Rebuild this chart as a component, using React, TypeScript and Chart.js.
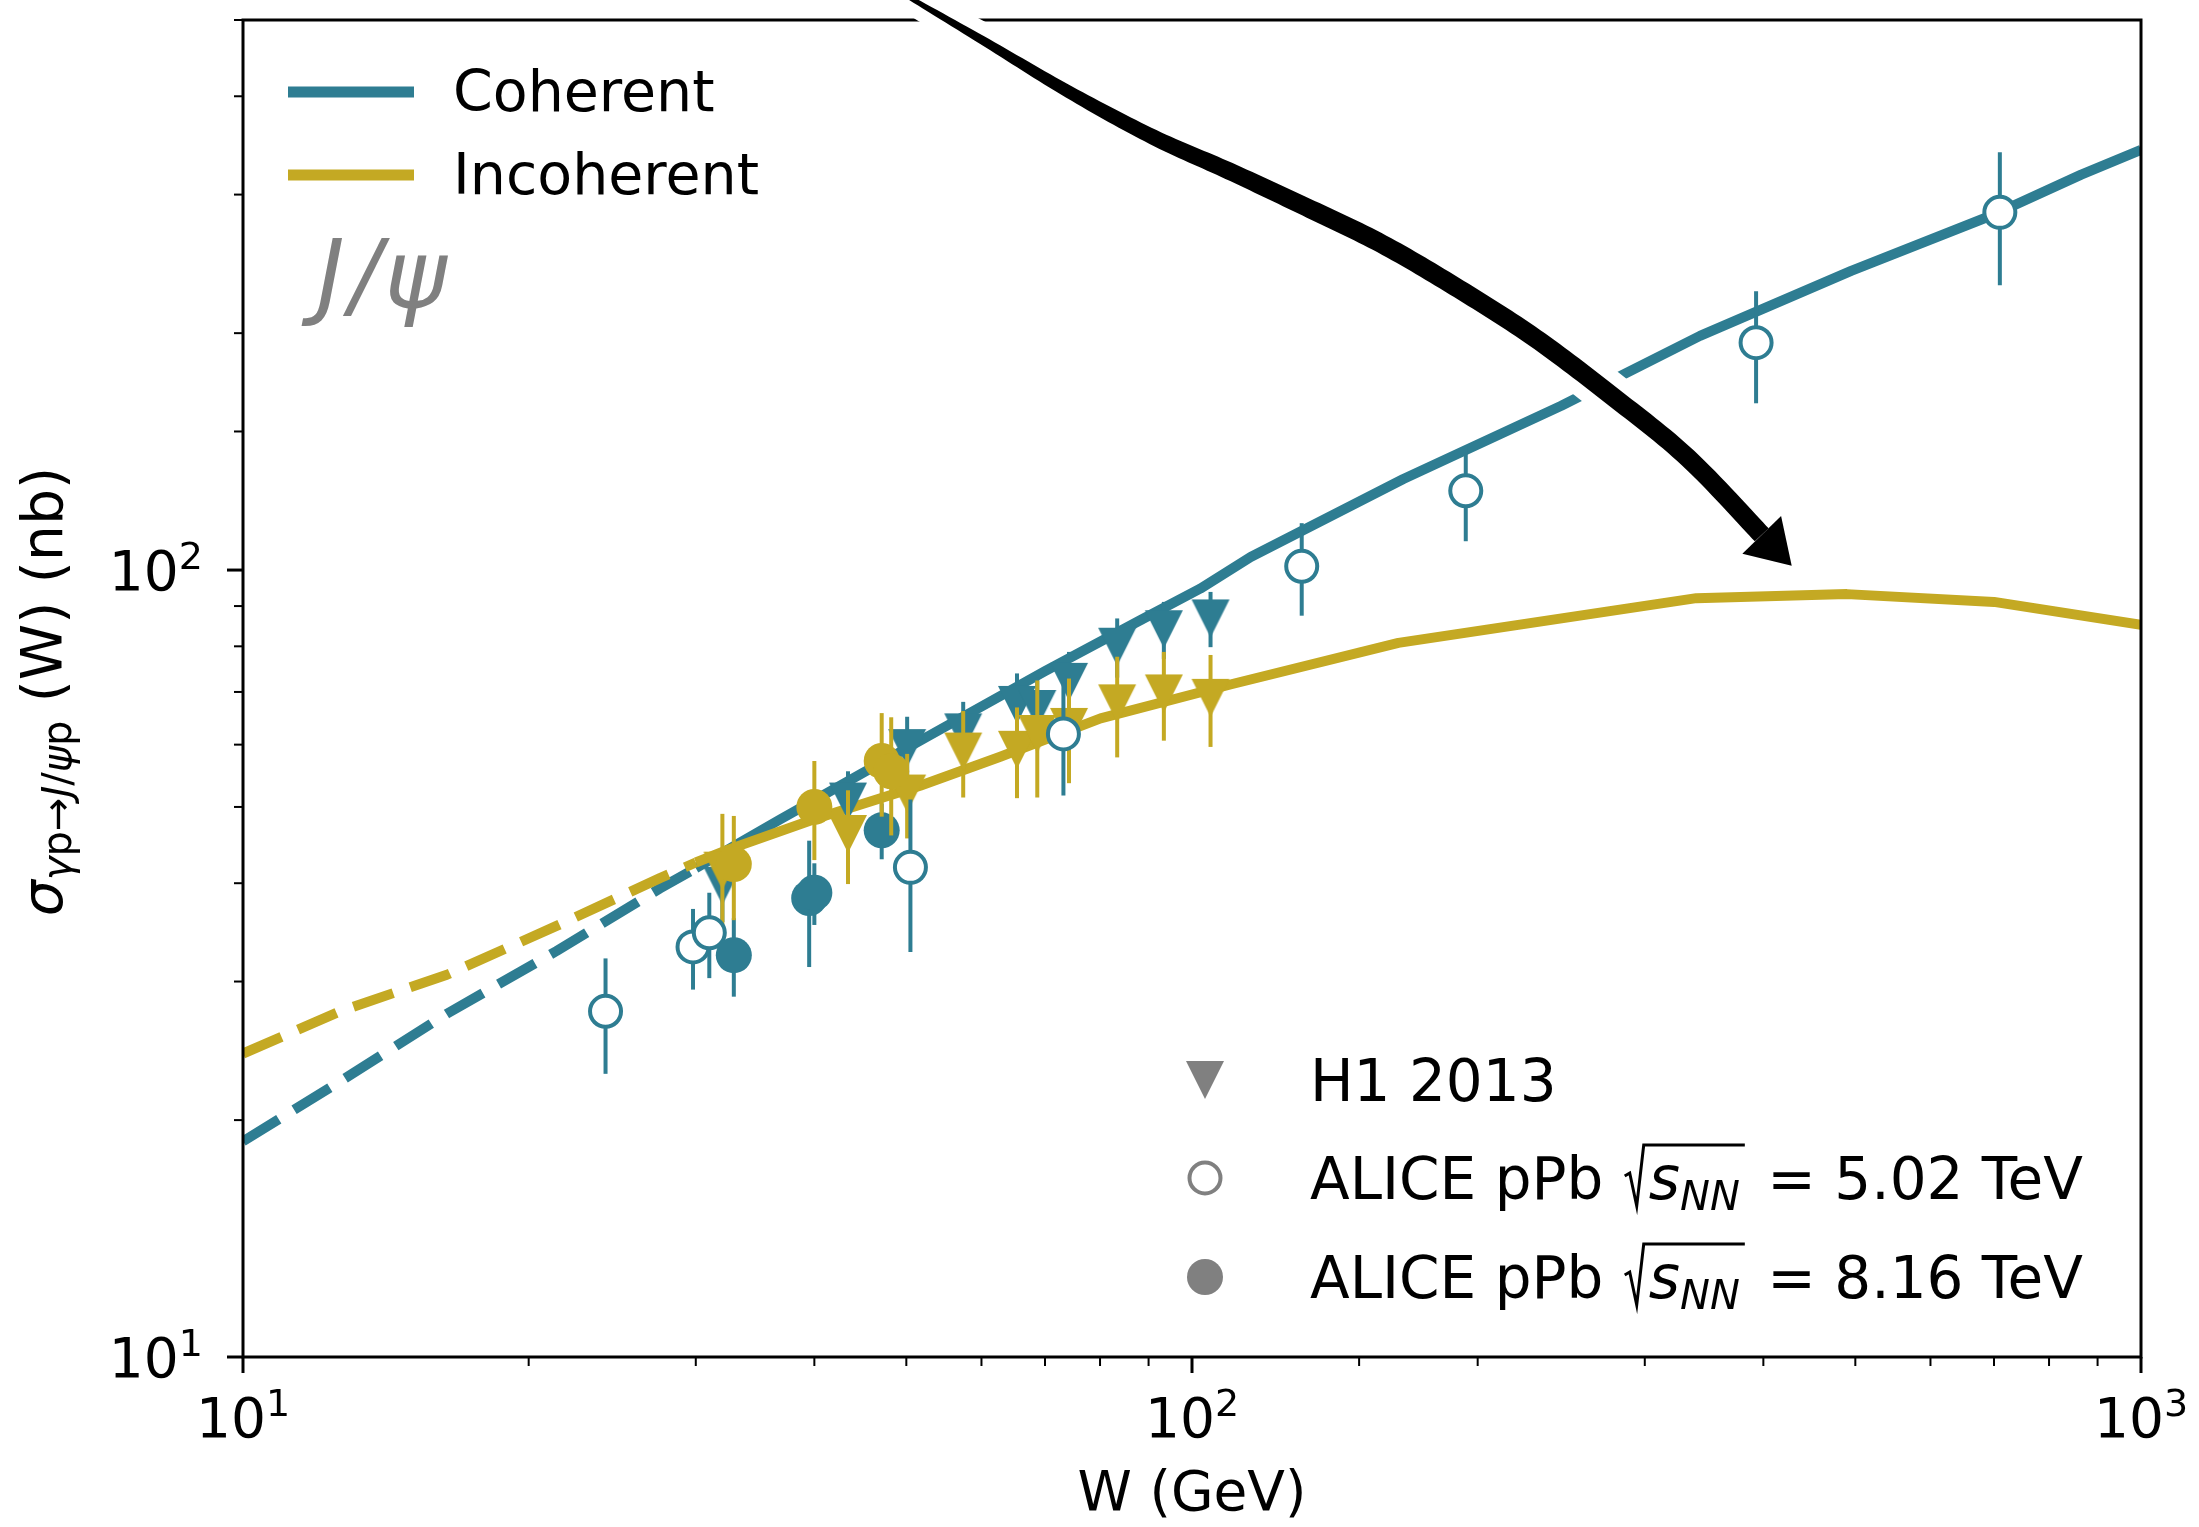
import React, { useEffect, useRef } from 'react';
import { Chart, registerables } from 'chart.js';

Chart.register(...registerables);

const TEAL = '#2E7D92';
const GOLD = '#C4A923';
const GRAY = '#808080';
const FONT = "'DejaVu Sans', sans-serif";

// ---- model curves (W in GeV, sigma in nb) ----
const cohDashW = [10, 12.66, 16.4, 21.4, 27.5, 30];
const cohDashS = [18.8, 22.4, 27.3, 32.8, 39.4, 41.8];
const cohW = [30, 36.8, 44.7, 52.6, 70, 88.3, 102, 115.3, 167, 245, 343, 495, 700, 865, 1000];
const cohS = [41.8, 48.2, 55.0, 61.4, 74.4, 86.4, 94.7, 103.9, 130.5, 161.7, 198.4, 240, 283, 318, 342];
const incDashW = [10, 12.66, 16.4, 21.4, 27.5, 30];
const incDashS = [24.3, 27.5, 30.6, 35.3, 40.6, 42.5];
const incW = [30, 32.4, 39.9, 51.7, 62.8, 80.1, 110, 165, 340, 490, 700, 1000];
const incS = [42.5, 44.1, 48.2, 53.2, 57.9, 64.8, 71.6, 80.8, 92.1, 93.2, 91.1, 85.2];

// ---- H1 2013 ----
const h1W = [32.0, 43.4, 50.1, 57.4, 65.4, 68.7, 74.2, 83.4, 93.4, 104.6];
const h1Coh = [39.7, 50.8, 59.4, 62.2, 67.4, 66.6, 72.1, 79.9, 84.1, 86.8];
const h1CohErr = [4.0, 4.7, 5.7, 5.8, 6.5, 6.5, 6.6, 6.9, 7.0, 7.0];
const h1Inc = [41.5, 46.2, 52.0, 58.8, 59.1, 61.9, 63.2, 67.7, 69.7, 68.8];
const h1IncErr = [7.5, 6.3, 6.4, 7.4, 7.8, 10.5, 9.6, 9.9, 9.0, 9.2];

// ---- ALICE pPb 5.02 TeV ----
const a5W = [24.1, 29.8, 31.0, 50.5, 73.2, 130.5, 194.3, 393, 710];
const a5Coh = [27.5, 33.2, 34.6, 41.9, 61.9, 101.1, 126.1, 194.5, 284.8];
const a5Err = [4.6, 3.9, 4.3, 9.2, 10.2, 13.6, 17.3, 31.6, 54.7];

// ---- ALICE pPb 8.16 TeV ----
const a8W = [32.9, 39.5, 40.0, 47.1];
const a8Coh = [32.4, 38.3, 38.9, 46.7];
const a8CohErr = [3.7, 7.0, 3.5, 3.8];
const a8IncW = [32.9, 40.0, 47.1, 48.2];
const a8Inc = [42.3, 50.0, 57.2, 55.5];
const a8IncErr = [6.4, 7.2, 8.6, 9.5];

// ---- axis ----
const xMin = 10, xMax = 1000, yMin = 10, yMax = 500;
const tickBase = '10';
const xTickExps = ['1', '2', '3'];
const yTickExps = ['1', '2'];
const xTitle = 'W (GeV)';

// legend texts
const lineLegend = ['Coherent', 'Incoherent'];
const markerLegend = ['H1 2013', '5.02', '8.16'];

// arrow path, in canvas pixels relative to the plot area's top-left corner
const arrowDx = [657, 739, 826, 910, 986, 1063, 1139, 1216, 1292, 1369, 1445, 1514, 1548.7];
const arrowDy = [-28, 20, 72, 117, 151, 187, 224, 269, 318, 376, 438, 510, 545.7];

const pts = (xs: number[], ys: number[]) => xs.map((x, i) => ({ x, y: ys[i] }));

function pow10Exp(v: number): number | null {
  const lg = Math.log10(v);
  const r = Math.round(lg);
  return Math.abs(lg - r) < 1e-9 ? r : null;
}

function triImage(color: string, size = 38) {
  const c = document.createElement('canvas');
  c.width = size + 2;
  c.height = size + 2;
  const g = c.getContext('2d')!;
  g.fillStyle = color;
  g.beginPath();
  g.moveTo(1, 1);
  g.lineTo(size + 1, 1);
  g.lineTo(size / 2 + 1, size + 1);
  g.closePath();
  g.fill();
  return c;
}

type Run = { t: string; f: string; dy?: number; gap?: number };
function drawRuns(ctx: CanvasRenderingContext2D, runs: Run[], x: number, y: number, measure = false) {
  let cx = x;
  for (const r of runs) {
    ctx.font = r.f;
    if (!measure) ctx.fillText(r.t, cx, y + (r.dy || 0));
    cx += ctx.measureText(r.t).width + (r.gap || 0);
  }
  return cx - x;
}

const powRuns = (exp: string): Run[] => [
  { t: tickBase, f: `55px ${FONT}` },
  { t: exp, f: `38px ${FONT}`, dy: -21 },
];

function drawArrow(ctx: CanvasRenderingContext2D, ca: any) {
  const P = arrowDx.map((dx, i) => [ca.left + dx, ca.top + arrowDy[i]]);
  const tip = P[P.length - 1];
  const prev = P[P.length - 2];
  let dx = tip[0] - prev[0], dy = tip[1] - prev[1];
  const dl = Math.hypot(dx, dy);
  dx /= dl; dy /= dl;
  const headLen = 43, headHalf = 27;
  const base = [tip[0] - dx * headLen, tip[1] - dy * headLen];
  const ctrl = P.slice(0, -2).concat([base]);
  const S: number[][] = [];
  for (let i = 0; i < ctrl.length - 1; i++) {
    const p0 = ctrl[Math.max(i - 1, 0)], p1 = ctrl[i], p2 = ctrl[i + 1], p3 = ctrl[Math.min(i + 2, ctrl.length - 1)];
    for (let k = 0; k < 16; k++) {
      const t = k / 16, t2 = t * t, t3 = t2 * t;
      const cr = (a: number, b: number, c: number, d: number) =>
        0.5 * (2 * b + (-a + c) * t + (2 * a - 5 * b + 4 * c - d) * t2 + (-a + 3 * b - 3 * c + d) * t3);
      S.push([cr(p0[0], p1[0], p2[0], p3[0]), cr(p0[1], p1[1], p2[1], p3[1])]);
    }
  }
  S.push(ctrl[ctrl.length - 1]);
  const cum = [0];
  for (let i = 1; i < S.length; i++) cum.push(cum[i - 1] + Math.hypot(S[i][0] - S[i - 1][0], S[i][1] - S[i - 1][1]));
  const L = cum[cum.length - 1];
  const left: number[][] = [], right: number[][] = [];
  for (let i = 0; i < S.length; i++) {
    const a = S[Math.max(i - 2, 0)], b = S[Math.min(i + 2, S.length - 1)];
    let tx = b[0] - a[0], ty = b[1] - a[1];
    const tl = Math.hypot(tx, ty) || 1;
    tx /= tl; ty /= tl;
    const nx = -ty, ny = tx;
    const u = Math.min(cum[i] / L / 0.55, 1);
    const wd = 4 + 15 * (1 - (1 - u) * (1 - u));
    left.push([S[i][0] + nx * wd / 2, S[i][1] + ny * wd / 2]);
    right.push([S[i][0] - nx * wd / 2, S[i][1] - ny * wd / 2]);
  }
  const shaft = () => {
    ctx.beginPath();
    ctx.moveTo(left[0][0], left[0][1]);
    for (const p of left) ctx.lineTo(p[0], p[1]);
    for (let i = right.length - 1; i >= 0; i--) ctx.lineTo(right[i][0], right[i][1]);
    ctx.closePath();
  };
  const nx = -dy, ny = dx;
  const head = () => {
    ctx.beginPath();
    ctx.moveTo(base[0] + nx * headHalf, base[1] + ny * headHalf);
    ctx.lineTo(tip[0], tip[1]);
    ctx.lineTo(base[0] - nx * headHalf, base[1] - ny * headHalf);
    ctx.closePath();
  };
  ctx.save();
  ctx.lineJoin = 'round';
  ctx.fillStyle = '#fff';
  ctx.strokeStyle = '#fff';
  ctx.lineWidth = 26;
  shaft(); ctx.fill(); ctx.stroke();
  head(); ctx.fill(); ctx.stroke();
  ctx.fillStyle = '#000';
  shaft(); ctx.fill();
  head(); ctx.fill();
  ctx.restore();
}

export default function App() {
  const ref = useRef<HTMLCanvasElement>(null);

  useEffect(() => {
    document.body.style.margin = '0';
    const canvas = ref.current!;
    const triTeal = triImage(TEAL);
    const triGold = triImage(GOLD);
    const triGray = triImage(GRAY);

    const errPlugin = {
      id: 'errbars',
      beforeDatasetDraw(chart: any, args: any) {
        const ds = chart.data.datasets[args.index];
        if (!ds.errs) return;
        const ctx = chart.ctx as CanvasRenderingContext2D;
        const xs = chart.scales.x, ys = chart.scales.y, ca = chart.chartArea;
        ctx.save();
        ctx.beginPath();
        ctx.rect(ca.left, ca.top, ca.right - ca.left, ca.bottom - ca.top);
        ctx.clip();
        ctx.strokeStyle = ds.errColor;
        ctx.lineWidth = 4;
        ctx.lineCap = 'butt';
        ds.data.forEach((p: any, i: number) => {
          const e = ds.errs[i];
          const px = xs.getPixelForValue(p.x);
          ctx.beginPath();
          ctx.moveTo(px, ys.getPixelForValue(p.y + e));
          ctx.lineTo(px, ys.getPixelForValue(Math.max(p.y - e, 0.001)));
          ctx.stroke();
        });
        ctx.restore();
      },
    };

    const decorPlugin = {
      id: 'decor',
      afterDraw(chart: any) {
        const ctx = chart.ctx as CanvasRenderingContext2D;
        const ca = chart.chartArea;
        const xs = chart.scales.x, ys = chart.scales.y;
        ctx.save();
        // spines
        ctx.strokeStyle = '#000';
        ctx.lineWidth = 3;
        ctx.strokeRect(ca.left, ca.top, ca.right - ca.left, ca.bottom - ca.top);
        // ticks + labels (positions from the library's scales)
        ctx.fillStyle = '#000';
        ctx.textBaseline = 'alphabetic';
        for (const t of xs.ticks) {
          if (t.value < xMin - 1e-9 || t.value > xMax + 1e-9) continue;
          const px = xs.getPixelForValue(t.value);
          const e = pow10Exp(t.value);
          const major = e !== null;
          ctx.lineWidth = major ? 3 : 2;
          ctx.beginPath();
          ctx.moveTo(px, ca.bottom);
          ctx.lineTo(px, ca.bottom + (major ? 16 : 9));
          ctx.stroke();
          if (major && xTickExps[e! - 1]) {
            const runs = powRuns(xTickExps[e! - 1]);
            const w = drawRuns(ctx, runs, 0, 0, true);
            drawRuns(ctx, runs, px - w / 2, ca.bottom + 80);
          }
        }
        for (const t of ys.ticks) {
          if (t.value < yMin - 1e-9 || t.value > yMax + 1e-9) continue;
          const py = ys.getPixelForValue(t.value);
          const e = pow10Exp(t.value);
          const major = e !== null;
          ctx.lineWidth = major ? 3 : 2;
          ctx.beginPath();
          ctx.moveTo(ca.left, py);
          ctx.lineTo(ca.left - (major ? 16 : 9), py);
          ctx.stroke();
          if (major && yTickExps[e! - 1]) {
            const runs = powRuns(yTickExps[e! - 1]);
            const w = drawRuns(ctx, runs, 0, 0, true);
            drawRuns(ctx, runs, ca.left - 40 - w, py + 20);
          }
        }

        // line legend (top-left)
        const lx0 = ca.left + 45, lx1 = ca.left + 171;
        [[TEAL, 72], [GOLD, 155]].forEach(([c, dyy], i) => {
          const y = ca.top + (dyy as number);
          ctx.strokeStyle = c as string;
          ctx.lineWidth = 11;
          ctx.lineCap = 'butt';
          ctx.beginPath();
          ctx.moveTo(lx0, y);
          ctx.lineTo(lx1, y);
          ctx.stroke();
          ctx.fillStyle = '#000';
          ctx.font = `57px ${FONT}`;
          ctx.fillText(lineLegend[i], ca.left + 210, y + 19);
        });

        // J/psi label
        ctx.fillStyle = GRAY;
        drawRuns(ctx, [
          { t: 'J', f: `italic 94px ${FONT}`, gap: 5 },
          { t: '/', f: `italic 94px ${FONT}`, gap: 3 },
          { t: 'ψ', f: `italic 94px ${FONT}` },
        ], ca.left + 74, ca.top + 287);

        // marker legend (bottom-right)
        const mx = ca.left + 962;
        const tx = ca.left + 1067;
        const rows = [ca.top + 1060, ca.top + 1158, ca.top + 1257];
        ctx.drawImage(triGray, mx - triGray.width / 2, rows[0] - triGray.height / 2);
        ctx.strokeStyle = GRAY;
        ctx.lineWidth = 4;
        ctx.fillStyle = '#fff';
        ctx.beginPath();
        ctx.arc(mx, rows[1], 15.5, 0, Math.PI * 2);
        ctx.fill();
        ctx.stroke();
        ctx.fillStyle = GRAY;
        ctx.beginPath();
        ctx.arc(mx, rows[2], 18, 0, Math.PI * 2);
        ctx.fill();

        const LF = 58;
        ctx.fillStyle = '#000';
        ctx.font = `${LF}px ${FONT}`;
        ctx.fillText(markerLegend[0], tx, rows[0] + 21);
        [1, 2].forEach((k) => {
          const yb = rows[k] + 21;
          ctx.fillStyle = '#000';
          ctx.font = `${LF}px ${FONT}`;
          let x = tx;
          const pre = 'ALICE pPb ';
          ctx.fillText(pre, x, yb);
          x += ctx.measureText(pre).width + 3;
          const xr = x;
          const sx = xr + 24;
          const inner: Run[] = [
            { t: 's', f: `italic ${LF + 2}px ${FONT}` },
            { t: 'NN', f: `italic 40px ${FONT}`, dy: 11 },
          ];
          const iw = drawRuns(ctx, inner, sx, yb);
          const xe = sx + iw + 5;
          ctx.strokeStyle = '#000';
          ctx.lineWidth = 3;
          ctx.lineJoin = 'miter';
          ctx.beginPath();
          ctx.moveTo(xr, yb - 23);
          ctx.lineTo(xr + 5, yb - 26);
          ctx.lineTo(xr + 12, yb + 7);
          ctx.lineTo(xr + 19, yb - 54);
          ctx.lineTo(xe, yb - 54);
          ctx.stroke();
          ctx.font = `${LF}px ${FONT}`;
          ctx.fillText(` = ${markerLegend[k]} TeV`, xe + 4, yb);
        });

        // y-axis label
        ctx.fillStyle = '#000';
        const ylab: Run[] = [
          { t: 'σ', f: `italic 57px ${FONT}` },
          { t: 'γ', f: `italic 40px ${FONT}`, dy: 9 },
          { t: 'p', f: `40px ${FONT}`, dy: 9 },
          { t: '→', f: `40px ${FONT}`, dy: 9 },
          { t: 'J', f: `italic 40px ${FONT}`, dy: 9 },
          { t: '/', f: `40px ${FONT}`, dy: 9 },
          { t: 'ψ', f: `italic 40px ${FONT}`, dy: 9 },
          { t: 'p', f: `40px ${FONT}`, dy: 9 },
          { t: ' (W) (nb)', f: `57px ${FONT}` },
        ];
        ctx.translate(62, (ca.top + ca.bottom) / 2 + 3);
        ctx.rotate(-Math.PI / 2);
        const tw = drawRuns(ctx, ylab, 0, 0, true);
        drawRuns(ctx, ylab, -tw / 2, 0);
        ctx.restore();

        // annotation arrow
        drawArrow(ctx, ca);
      },
    };

    const lineDs = (label: string, xs: number[], ys: number[], color: string, dashed: boolean) => ({
      label,
      data: pts(xs, ys),
      showLine: true,
      borderColor: color,
      backgroundColor: color,
      borderWidth: 10,
      borderDash: dashed ? [42, 18] : [],
      borderCapStyle: 'butt',
      borderJoinStyle: 'round',
      pointRadius: 0,
      fill: false,
      tension: 0,
      order: 20,
    });

    const chart = new Chart(canvas, {
      type: 'scatter',
      data: {
        datasets: [
          {
            label: 'ALICE 8.16 incoherent',
            data: pts(a8IncW, a8Inc),
            errs: a8IncErr, errColor: GOLD,
            pointStyle: 'circle', pointRadius: 18, pointBorderWidth: 0,
            pointBackgroundColor: GOLD, pointBorderColor: GOLD, order: 1,
          } as any,
          {
            label: 'ALICE 8.16 coherent',
            data: pts(a8W, a8Coh),
            errs: a8CohErr, errColor: TEAL,
            pointStyle: 'circle', pointRadius: 18, pointBorderWidth: 0,
            pointBackgroundColor: TEAL, pointBorderColor: TEAL, order: 2,
          } as any,
          {
            label: 'ALICE 5.02',
            data: pts(a5W, a5Coh),
            errs: a5Err, errColor: TEAL,
            pointStyle: 'circle', pointRadius: 15.5, pointBorderWidth: 4,
            pointBackgroundColor: '#ffffff', pointBorderColor: TEAL, order: 3,
          } as any,
          {
            label: 'H1 incoherent',
            data: pts(h1W, h1Inc),
            errs: h1IncErr, errColor: GOLD,
            pointStyle: triGold, pointRadius: 19, order: 4,
          } as any,
          {
            label: 'H1 coherent',
            data: pts(h1W, h1Coh),
            errs: h1CohErr, errColor: TEAL,
            pointStyle: triTeal, pointRadius: 19, order: 5,
          } as any,
          lineDs('Incoherent', incW, incS, GOLD, false) as any,
          lineDs('Incoherent extrap.', incDashW, incDashS, GOLD, true) as any,
          lineDs('Coherent', cohW, cohS, TEAL, false) as any,
          lineDs('Coherent extrap.', cohDashW, cohDashS, TEAL, true) as any,
        ],
      },
      options: {
        animation: false,
        responsive: false,
        devicePixelRatio: 1,
        events: [],
        layout: { padding: { left: 0, right: 58, top: 17, bottom: 0 } },
        plugins: { legend: { display: false }, tooltip: { enabled: false } },
        scales: {
          x: {
            type: 'logarithmic',
            min: xMin,
            max: xMax,
            grid: { display: false, drawTicks: false },
            border: { display: false },
            ticks: { display: false, autoSkip: false },
            title: {
              display: true,
              text: xTitle,
              color: '#000',
              font: { family: FONT, size: 55 },
              padding: { top: 0, bottom: -2 },
            },
            afterFit: (s: any) => { s.height = 170; s.paddingLeft = 0; s.paddingRight = 0; },
          },
          y: {
            type: 'logarithmic',
            min: yMin,
            max: yMax,
            grid: { display: false, drawTicks: false },
            border: { display: false },
            ticks: { display: false, autoSkip: false },
            afterFit: (s: any) => { s.width = 243; s.paddingTop = 0; s.paddingBottom = 0; },
          },
        },
      } as any,
      plugins: [errPlugin, decorPlugin],
    });
    return () => chart.destroy();
  }, []);

  return (
    <div style={{ width: 2199, height: 1527 }}>
      <canvas ref={ref} width={2199} height={1527} style={{ display: 'block' }} />
    </div>
  );
}
